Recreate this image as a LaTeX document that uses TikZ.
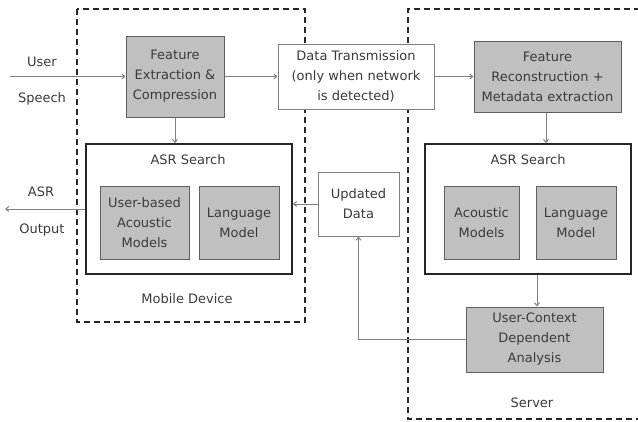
\documentclass[tikz,border=0pt]{standalone}
\usepackage{fontspec}
\setmainfont{DejaVu Sans}
\usetikzlibrary{arrows.meta}
\definecolor{txt}{HTML}{3A3A3A}
\definecolor{boxfill}{HTML}{C0C0C0}
\definecolor{boxline}{HTML}{606060}
\definecolor{conn}{HTML}{808080}
\tikzset{
  base/.style={inner sep=0pt, align=center, text=txt, font=\fontsize{13}{20}\selectfont},
  graybox/.style={base, draw=boxline, fill=boxfill, line width=1pt},
  whitebox/.style={base, draw=conn, fill=white, line width=1pt},
  asrbox/.style={draw=black!85, line width=1.8pt, fill=white, inner sep=0pt},
  lbl/.style={base},
  conn/.style={draw=conn, line width=1pt, -{Straight Barb[length=3pt,width=5pt]}},
  area/.style={draw=black!85, line width=1.8pt, dash pattern=on 6pt off 4pt},
}
\begin{document}
\begin{tikzpicture}[x=1pt,y=-1pt]
\useasboundingbox (0,0) rectangle (638,421);
% dashed areas
\draw[area] (77,9) rectangle (305,322);
\draw[area] (640,9) -- (408,9) -- (408,419) -- (640,419);
% boxes
\node[graybox, minimum width=98pt, minimum height=81pt] (fe) at (175,76.5) {Feature\\Extraction \&\\Compression};
\node[whitebox, minimum width=156pt, minimum height=65pt] (dt) at (356,76.5) {Data Transmission\\(only when network\\is detected)};
\node[graybox, minimum width=147pt, minimum height=71pt] (fr) at (547.5,76.5) {Feature\\Reconstruction +\\Metadata extraction};
\node[asrbox, minimum width=206pt, minimum height=130pt] (masr) at (189,209) {};
\node[lbl] (masrl) at (188,160) {ASR Search};
\node[graybox, minimum width=89pt, minimum height=73pt] (uam) at (144.5,222.5) {User-based\\Acoustic\\Models};
\node[graybox, minimum width=80pt, minimum height=73pt] (mlm) at (239,222.5) {Language\\Model};
\node[asrbox, minimum width=206pt, minimum height=130pt] (sasr) at (528,209) {};
\node[lbl] (sasrl) at (528,160) {ASR Search};
\node[graybox, minimum width=75pt, minimum height=73pt] (sam) at (481.5,222.5) {Acoustic\\Models};
\node[graybox, minimum width=80pt, minimum height=73pt] (slm) at (576,222.5) {Language\\Model};
\node[whitebox, minimum width=81pt, minimum height=64pt] (ud) at (358.5,204) {Updated\\Data};
\node[graybox, minimum width=137pt, minimum height=65pt] (uc) at (534.5,339.5) {User-Context\\Dependent\\Analysis};
% labels
\node[lbl] (user) at (42,62) {User};
\node[lbl] (speech) at (42,99) {Speech};
\node[lbl] (asr) at (41,192) {ASR};
\node[lbl] (output) at (42,230) {Output};
\node[lbl] (mobile) at (187,299) {Mobile Device};
\node[lbl] (server) at (532,403) {Server};
% connectors
\coordinate (in) at (10,76.5);
\coordinate (out) at (5,209);
\draw[conn] (in) -- (fe.west);
\draw[conn] (fe.east) -- (dt.west);
\draw[conn] (dt.east) -- (fr.west);
\draw[conn] (fe.south) -- (fe.south |- masr.north);
\draw[conn] (fr.south -| 546,0) -- (546,0 |- sasr.north);
\draw[conn] (537,0 |- sasr.south) -- (537,0 |- uc.north);
\draw[conn] (uc.west) -- (ud.south |- uc.west) -- (ud.south);
\draw[conn] (ud.west) -- (ud.west -| masr.east);
\draw[conn] (masr.west) -- (out);
\end{tikzpicture}
\end{document}
